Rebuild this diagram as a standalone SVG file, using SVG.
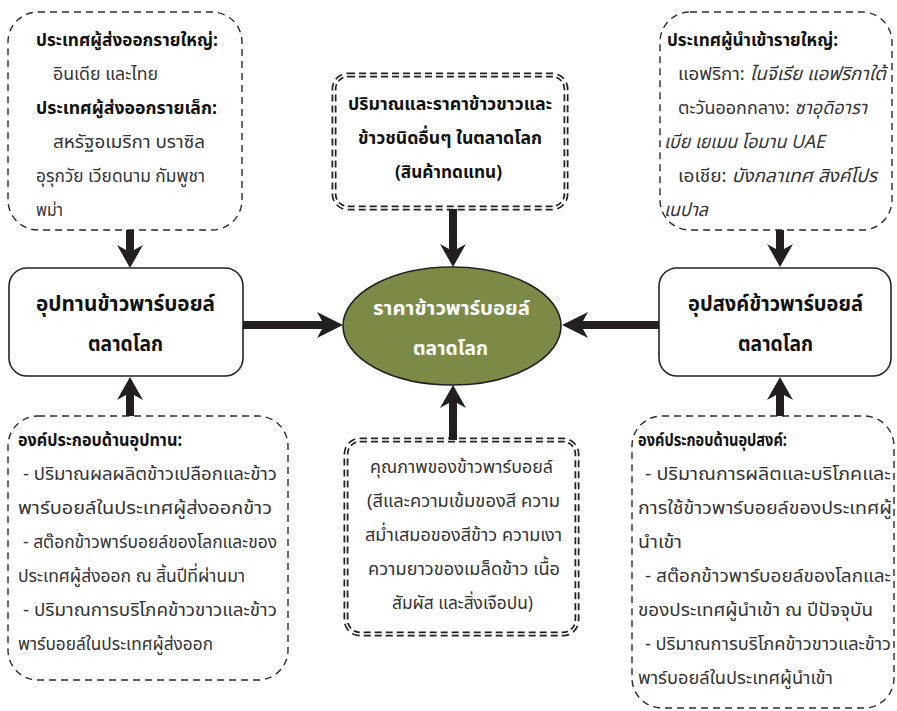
<svg xmlns="http://www.w3.org/2000/svg" width="897" height="711" viewBox="0 0 897 711">
<style>
text { font-family: "Noto Sans Thai", "Noto Sans", "DejaVu Sans", sans-serif; }
.h { font-weight: bold; fill: #111; font-size: 17px; }
.b { fill: #333; font-size: 18.5px; }
.i { font-style: italic; }
.c { text-anchor: middle; }
.t { font-weight: bold; fill: #111; font-size: 18px; }
.n { font-weight: bold; font-size: 21px; fill: #111; }
.e { font-weight: bold; font-size: 20px; fill: #fff; }
.dash { fill: #fff; stroke: #2a2a2a; stroke-width: 1.4; stroke-dasharray: 7 5; }
.dbl { fill: none; stroke: #222; stroke-width: 5; stroke-dasharray: 7 4; }
.dblin { fill: none; stroke: #fff; stroke-width: 1.5; }
.node { fill: #fff; stroke: #222; stroke-width: 1.6; }
.arr { fill: #231f20; }
</style>
<rect width="897" height="711" fill="#fff"/>

<g id="exporters">
<rect class="dash" x="8" y="12" width="234" height="218" rx="30"/>
<text class="h" x="36" y="46" textLength="182" lengthAdjust="spacingAndGlyphs">ประเทศผู้ส่งออกรายใหญ่:</text>
<text class="b" x="53" y="80" textLength="105" lengthAdjust="spacingAndGlyphs">อินเดีย และไทย</text>
<text class="h" x="36" y="114" textLength="181" lengthAdjust="spacingAndGlyphs">ประเทศผู้ส่งออกรายเล็ก:</text>
<text class="b" x="53" y="148" textLength="152" lengthAdjust="spacingAndGlyphs">สหรัฐอเมริกา บราซิล</text>
<text class="b" x="36" y="182" textLength="169" lengthAdjust="spacingAndGlyphs">อุรุกวัย เวียดนาม กัมพูชา</text>
<text class="b" x="36" y="216" textLength="27" lengthAdjust="spacingAndGlyphs">พม่า</text>
</g>

<g id="substitutes">
<rect class="dbl" x="334" y="75" width="232" height="133" rx="14"/>
<rect class="dblin" x="334" y="75" width="232" height="133" rx="14"/>
<text class="t" x="348" y="110" textLength="204" lengthAdjust="spacingAndGlyphs">ปริมาณและราคาข้าวขาวและ</text>
<text class="t" x="358" y="144" textLength="184" lengthAdjust="spacingAndGlyphs">ข้าวชนิดอื่นๆ ในตลาดโลก</text>
<text class="t" x="395" y="178" textLength="107" lengthAdjust="spacingAndGlyphs">(สินค้าทดแทน)</text>
</g>

<g id="importers">
<rect class="dash" x="660" y="12" width="232" height="218" rx="30"/>
<text class="h" x="667" y="46" textLength="171" lengthAdjust="spacingAndGlyphs">ประเทศผู้นำเข้ารายใหญ่:</text>
<text class="b" x="678" y="80" textLength="208" lengthAdjust="spacingAndGlyphs">แอฟริกา: <tspan class="i">ไนจีเรีย แอฟริกาใต้</tspan></text>
<text class="b" x="678" y="114" textLength="189" lengthAdjust="spacingAndGlyphs">ตะวันออกกลาง: <tspan class="i">ซาอุดิอารา</tspan></text>
<text class="b i" x="664" y="148" textLength="161" lengthAdjust="spacingAndGlyphs">เบีย เยเมน โอมาน UAE</text>
<text class="b" x="678" y="182" textLength="199" lengthAdjust="spacingAndGlyphs">เอเชีย: <tspan class="i">บังกลาเทศ สิงค์โปร</tspan></text>
<text class="b i" x="664" y="216" textLength="44" lengthAdjust="spacingAndGlyphs">เนปาล</text>
</g>

<g id="supply">
<rect class="node" x="9" y="268" width="234" height="108" rx="18"/>
<text class="n" x="36" y="311" textLength="179" lengthAdjust="spacingAndGlyphs">อุปทานข้าวพาร์บอยล์</text>
<text class="n" x="88" y="351" textLength="75" lengthAdjust="spacingAndGlyphs">ตลาดโลก</text>
</g>

<g id="price">
<ellipse cx="452" cy="326" rx="109" ry="59" fill="#7b8b47" stroke="#222" stroke-width="1.6"/>
<text class="e" x="373" y="315" textLength="157" lengthAdjust="spacingAndGlyphs">ราคาข้าวพาร์บอยล์</text>
<text class="e" x="413" y="355" textLength="75" lengthAdjust="spacingAndGlyphs">ตลาดโลก</text>
</g>

<g id="demand">
<rect class="node" x="659" y="268" width="232" height="108" rx="18"/>
<text class="n" x="688" y="311" textLength="175" lengthAdjust="spacingAndGlyphs">อุปสงค์ข้าวพาร์บอยล์</text>
<text class="n" x="738" y="351" textLength="75" lengthAdjust="spacingAndGlyphs">ตลาดโลก</text>
</g>

<g id="supply-factors">
<rect class="dash" x="8" y="416" width="280" height="264" rx="30"/>
<text class="h" x="18" y="446" textLength="164" lengthAdjust="spacingAndGlyphs">องค์ประกอบด้านอุปทาน:</text>
<text class="b" x="23" y="480" textLength="254" lengthAdjust="spacingAndGlyphs">- ปริมาณผลผลิตข้าวเปลือกและข้าว</text>
<text class="b" x="18" y="514" textLength="254" lengthAdjust="spacingAndGlyphs">พาร์บอยล์ในประเทศผู้ส่งออกข้าว</text>
<text class="b" x="23" y="548" textLength="254" lengthAdjust="spacingAndGlyphs">- สต๊อกข้าวพาร์บอยล์ของโลกและของ</text>
<text class="b" x="18" y="582" textLength="227" lengthAdjust="spacingAndGlyphs">ประเทศผู้ส่งออก ณ สิ้นปีที่ผ่านมา</text>
<text class="b" x="23" y="616" textLength="254" lengthAdjust="spacingAndGlyphs">- ปริมาณการบริโภคข้าวขาวและข้าว</text>
<text class="b" x="18" y="650" textLength="195" lengthAdjust="spacingAndGlyphs">พาร์บอยล์ในประเทศผู้ส่งออก</text>
</g>

<g id="quality">
<rect class="dbl" x="346" y="440" width="231" height="194" rx="14"/>
<rect class="dblin" x="346" y="440" width="231" height="194" rx="14"/>
<text class="b" x="370" y="473" textLength="183" lengthAdjust="spacingAndGlyphs">คุณภาพของข้าวพาร์บอยล์</text>
<text class="b" x="367" y="507" textLength="193" lengthAdjust="spacingAndGlyphs">(สีและความเข้มของสี ความ</text>
<text class="b" x="365" y="541" textLength="197" lengthAdjust="spacingAndGlyphs">สม่ำเสมอของสีข้าว ความเงา</text>
<text class="b" x="368" y="575" textLength="192" lengthAdjust="spacingAndGlyphs">ความยาวของเมล็ดข้าว เนื้อ</text>
<text class="b" x="392" y="609" textLength="141" lengthAdjust="spacingAndGlyphs">สัมผัส และสิ่งเจือปน)</text>
</g>

<g id="demand-factors">
<rect class="dash" x="632" y="416" width="262" height="292" rx="30"/>
<text class="h" x="638" y="446" textLength="149" lengthAdjust="spacingAndGlyphs">องค์ประกอบด้านอุปสงค์:</text>
<text class="b" x="645" y="480" textLength="246" lengthAdjust="spacingAndGlyphs">- ปริมาณการผลิตและบริโภคและ</text>
<text class="b" x="638" y="514" textLength="254" lengthAdjust="spacingAndGlyphs">การใช้ข้าวพาร์บอยล์ของประเทศผู้</text>
<text class="b" x="638" y="548" textLength="44" lengthAdjust="spacingAndGlyphs">นำเข้า</text>
<text class="b" x="645" y="582" textLength="246" lengthAdjust="spacingAndGlyphs">- สต๊อกข้าวพาร์บอยล์ของโลกและ</text>
<text class="b" x="638" y="616" textLength="235" lengthAdjust="spacingAndGlyphs">ของประเทศผู้นำเข้า ณ ปีปัจจุบัน</text>
<text class="b" x="645" y="650" textLength="246" lengthAdjust="spacingAndGlyphs">- ปริมาณการบริโภคข้าวขาวและข้าว</text>
<text class="b" x="638" y="684" textLength="195" lengthAdjust="spacingAndGlyphs">พาร์บอยล์ในประเทศผู้นำเข้า</text>
</g>

<g id="connectors" class="arr">
<path d="M126,230 H134 V250 L143,245 L130,268 L117,245 L126,250 Z"/>
<path d="M449,209 H457 V249 L466,244 L453,267 L440,244 L449,249 Z"/>
<path d="M776,230 H784 V249 L793,244 L780,267 L767,244 L776,249 Z"/>
<path d="M243,321 V329 H322 L317,338 L343,325 L317,312 L322,321 Z"/>
<path d="M659,321 V329 H583 L588,338 L562,325 L588,312 L583,321 Z"/>
<path d="M126,416 H134 V395 L143,400 L130,377 L117,400 L126,395 Z"/>
<path d="M449,440 H457 V403 L466,408 L453,385 L440,408 L449,403 Z"/>
<path d="M776,416 H784 V395 L793,400 L780,377 L767,400 L776,395 Z"/>
</g>
</svg>
